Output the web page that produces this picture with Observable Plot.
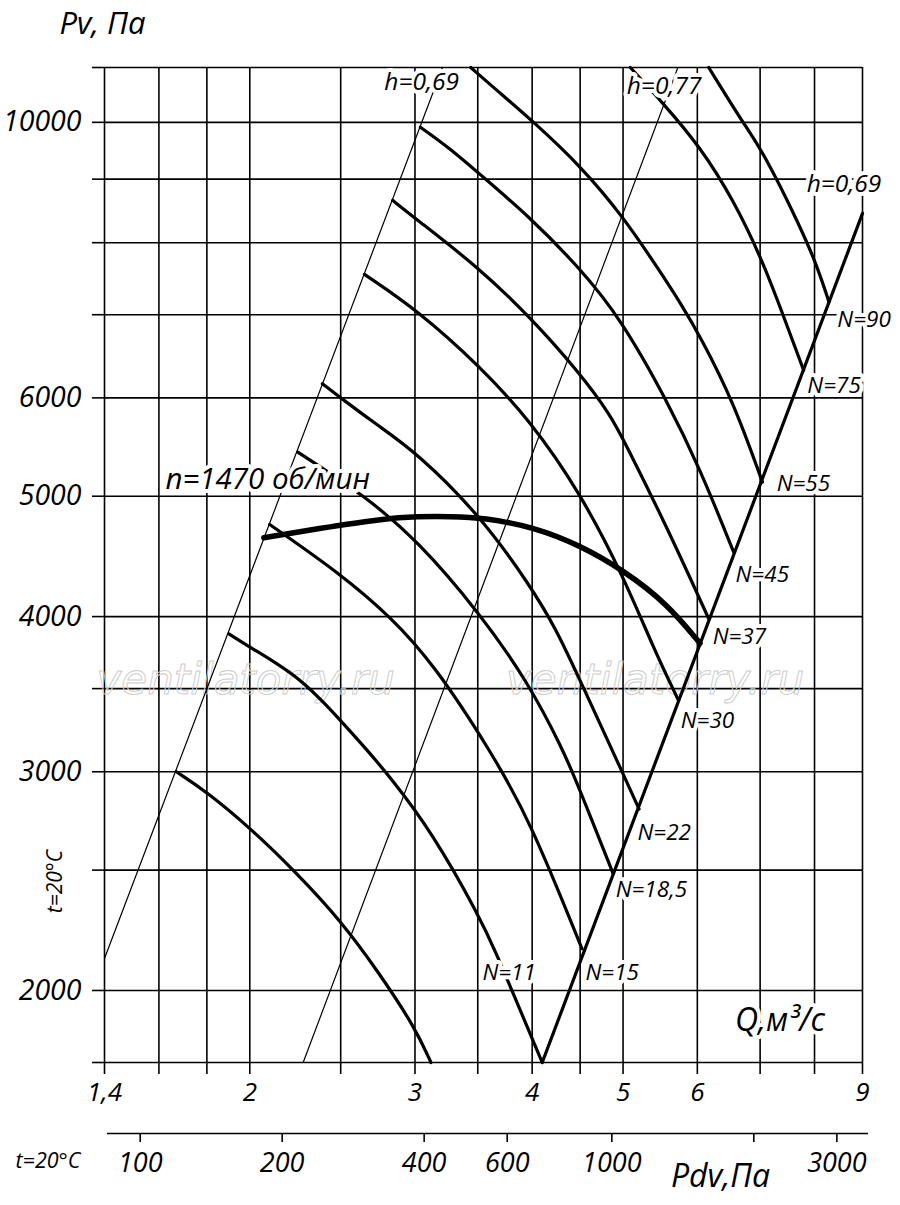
<!DOCTYPE html>
<html><head><meta charset="utf-8">
<script src="https://cdn.jsdelivr.net/npm/d3@7"></script>
<script src="https://cdn.jsdelivr.net/npm/@observablehq/plot@0.6"></script>
<style>
body{margin:0;background:#fff;}
#wrap{position:relative;width:900px;height:1205px;overflow:hidden;background:#fff;}
#main{position:absolute;left:0;top:0;}
#pdv{position:absolute;left:0;top:1110px;}
</style></head><body>
<div id="wrap"><div id="main"></div><div id="pdv"></div></div>
<script>
// ---- scales / ticks ----
const qDomain = [1.4, 9];
const pDomain = [1750, 11070];
const qGrid = [1.4, 1.6, 1.8, 2, 2.5, 3, 3.5, 4, 4.5, 5, 6, 7, 8, 9];
const qLabels = [1.4, 2, 3, 4, 5, 6, 9];
const pGrid = [1750, 2000, 2500, 3000, 3500, 4000, 5000, 6000, 7000, 8000, 9000, 10000, 11070];
const pLabels = [2000, 3000, 4000, 5000, 6000, 10000];
const pdvDomain = [84, 3400];
const pdvTicks = [100, 200, 400, 600, 1000, 2000, 3000];
const pdvLabels = [100, 200, 400, 600, 1000, 3000];

// ---- straight efficiency / boundary lines [Q, Pv] ----
const lineH069Left = [[1.4, 2122], [3.21, 11070]];
const lineH077 = [[2.28, 1750], [5.72, 11070]];
const lineRight = [[4.10, 1750], [9, 8447]];

// ---- fan curves [Q, Pv] ----
const curveA = [[1.67,3000],[1.80,2890],[2.00,2705],[2.24,2490],[2.50,2277],[2.74,2072],[3.00,1868],[3.12,1750]];
const curveB = [[1.90,3874],[2.00,3779],[2.265,3574],[2.50,3299],[2.67,3121],[2.83,2963],[3.12,2690],[3.52,2291],[3.67,2134],[3.78,2025],[4.10,1750]];
const curveC = [[2.10,4745],[2.50,4329],[2.83,3995],[3.14,3664],[3.61,3121],[3.98,2740],[4.52,2161]];
const curveD = [[2.25,5426],[2.65,5006],[3.02,4606],[3.52,4021],[3.95,3553],[4.32,3121],[4.50,2897],[4.88,2483]];
const curveE = [[2.39,6160],[2.52,5972],[2.73,5711],[3.02,5413],[3.52,4825],[3.98,4237],[4.24,3913],[4.50,3553],[5.00,2989],[5.20,2800]];
const curveF = [[2.65,7543],[3.02,7056],[3.52,6360],[3.98,5754],[4.50,5034],[5.01,4302],[5.39,3770],[5.73,3423]];
const curveG = [[2.84,8653],[2.99,8389],[3.52,7623],[3.98,6969],[4.50,6278],[4.85,5808],[5.01,5545],[5.57,4721],[6.17,3984]];
const curveH = [[3.04,9910],[3.27,9527],[3.52,9078],[3.98,8384],[4.50,7627],[4.97,6952],[5.57,5972],[6.05,5245],[6.56,4507]];
const curveI = [[3.44,11070],[3.67,10608],[4.01,10015],[4.50,9231],[5.01,8384],[5.48,7575],[5.76,7148],[6.05,6714],[6.56,5950],[7.04,5132]];
const curveJ = [[5.09,11070],[5.52,10355],[6.05,9544],[6.56,8653],[7.04,7741],[7.42,6969],[7.79,6314]];
const curveK = [[6.17,11070],[6.72,9973],[7.04,9491],[7.73,8235],[8.06,7645],[8.29,7165]];
const curve1470 = [[2.07,4630],[2.36,4708],[2.78,4796],[3.02,4816],[3.27,4816],[3.55,4805],[4.02,4721],[4.50,4564],[5.01,4356],[5.57,4098],[6.04,3807]];

// ---- annotations ----
const nText = ["N=11","N=15","N=18,5","N=22","N=30","N=37","N=45","N=55","N=75","N=90"];
const nQ = [3.54, 4.56, 4.91, 5.18, 5.76, 6.23, 6.59, 7.29, 7.86, 8.46];
const nP = [2065, 2065, 2410, 2680, 3300, 3850, 4320, 5120, 6140, 6940];
const hText = ["h=0,69", "h=0,77", "h=0,69"];
const hQ = [3.05, 5.53, 8.60];
const hP = [10770, 10690, 8910];
const speedText = ["n=1470 об/мин"];
const speedQ = [2.09];
const speedP = [5157];
const qTitle = ["Q,м³/с"];
const qTitleQ = [7.35];
const qTitleP = [1891];
const wmText = ["ventilatorry.ru", "ventilatorry.ru"];
const wmQ = [1.98, 5.41];
const wmP = [3550, 3550];

const style = {fontFamily: '"Open Sans", "DejaVu Sans", sans-serif', fontStyle: "italic", background: "white", color: "black", overflow: "visible"};
const gw = 1.6;
const cw = 3.2;
const xy = {x: d => d[0], y: d => d[1]};
const curveMark = (data, w = cw) => Plot.line(data, {...xy, stroke: "black", strokeWidth: w, curve: "basis"});
const tbl = (t, q, p) => t.map((s, i) => ({t: s, q: q[i], p: p[i]}));
const halo = {stroke: "white", strokeWidth: 8, paintOrder: "stroke", fill: "black", strokeLinejoin: "round"};

const main = Plot.plot({
  width: 900, height: 1110,
  marginTop: 67, marginRight: 38, marginBottom: 48, marginLeft: 104,
  style,
  x: {type: "log", domain: qDomain},
  y: {type: "log", domain: pDomain},
  marks: [
    Plot.gridX(qGrid, {stroke: "black", strokeOpacity: 1, strokeWidth: gw}),
    Plot.gridY(pGrid, {stroke: "black", strokeOpacity: 1, strokeWidth: gw}),
    Plot.axisX(qGrid, {tickSize: 12, tickPadding: 8, fontSize: 26, strokeWidth: gw, label: null,
      tickFormat: d => qLabels.includes(d) ? String(d).replace(".", ",") : ""}),
    Plot.axisY(pGrid, {tickSize: 12, tickPadding: 11, fontSize: 28.5, strokeWidth: gw, label: null,
      tickFormat: d => pLabels.includes(d) ? String(d) : ""}),
    Plot.text(tbl(wmText, wmQ, wmP), {x: "q", y: "p", text: "t", fontSize: 42, fill: "none", stroke: "#cdcdcd", strokeWidth: 1, fontFamily: '"DejaVu Sans", sans-serif'}),
    Plot.line(lineH069Left, {...xy, stroke: "black", strokeWidth: 1.2}),
    Plot.line(lineH077, {...xy, stroke: "black", strokeWidth: 1.2}),
    Plot.line(lineRight, {...xy, stroke: "black", strokeWidth: cw}),
    curveMark(curveA), curveMark(curveB), curveMark(curveC), curveMark(curveD),
    curveMark(curveE), curveMark(curveF), curveMark(curveG), curveMark(curveH),
    curveMark(curveI), curveMark(curveJ), curveMark(curveK),
    curveMark(curve1470, 5.5),
    Plot.text(tbl(nText, nQ, nP), {x: "q", y: "p", text: "t", textAnchor: "start", lineAnchor: "middle", fontSize: 22.5, ...halo}),
    Plot.text(tbl(hText, hQ, hP), {x: "q", y: "p", text: "t", textAnchor: "middle", lineAnchor: "middle", fontSize: 24.5, ...halo}),
    Plot.text(tbl(speedText, speedQ, speedP), {x: "q", y: "p", text: "t", textAnchor: "middle", lineAnchor: "middle", fontSize: 29.5, ...halo}),
    Plot.text(tbl(qTitle, qTitleQ, qTitleP), {x: "q", y: "p", text: "t", textAnchor: "middle", lineAnchor: "middle", fontSize: 32, ...halo}),
    Plot.text(["Pv, Па"], {frameAnchor: "top-left", textAnchor: "start", lineAnchor: "bottom", dx: -45, dy: -34, fontSize: 31}),
    Plot.text(["t=20°C"], {frameAnchor: "bottom-left", rotate: -90, textAnchor: "middle", lineAnchor: "middle", dx: -49, dy: -181, fontSize: 21})
  ]
});
document.getElementById("main").appendChild(main);

const pdv = Plot.plot({
  width: 900, height: 95,
  marginTop: 0, marginBottom: 72, marginLeft: 107, marginRight: 32,
  style,
  x: {type: "log", domain: pdvDomain, range: [104, 862]},
  y: {domain: [0, 1], axis: null},
  marks: [
    Plot.ruleY([0], {stroke: "black", strokeWidth: gw}),
    Plot.axisX(pdvTicks, {tickSize: 9, tickPadding: 10, fontSize: 27, strokeWidth: gw, label: null,
      tickFormat: d => pdvLabels.includes(d) ? String(d) : ""}),
    Plot.text(["t=20°C"], {frameAnchor: "bottom-left", textAnchor: "start", lineAnchor: "middle", dx: -92, dy: 28, fontSize: 21.5}),
    Plot.text(["Pdv,Па"], {frameAnchor: "bottom-left", textAnchor: "middle", lineAnchor: "middle", dx: 613, dy: 43, fontSize: 32})
  ]
});
document.getElementById("pdv").appendChild(pdv);
</script>
</body></html>
